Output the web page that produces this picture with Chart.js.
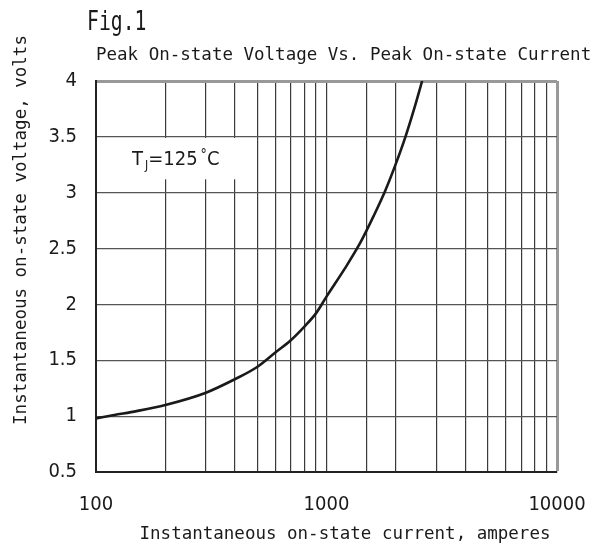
<!DOCTYPE html>
<html>
<head>
<meta charset="utf-8">
<title>Fig.1 Peak On-state Voltage Vs. Peak On-state Current</title>
<script src="https://cdn.jsdelivr.net/npm/chart.js@4.4.1/dist/chart.umd.min.js"></script>
<style>
  html, body { margin: 0; padding: 0; background: #fff; }
  #wrap { width: 590px; height: 550px; }
</style>
</head>
<body>
<div id="wrap"><canvas id="vtm" width="590" height="550"></canvas></div>
<script>
// ─── Data ─────────────────────────────────────────────────────────────────────
const CURRENT = [100, 120, 150, 200, 300, 400, 500, 600, 700, 800, 900, 1000, 1200, 1400, 1600, 1800, 2000, 2200, 2400, 2600];
const VOLTAGE = [0.98, 1.01, 1.045, 1.1, 1.21, 1.33, 1.44, 1.57, 1.68, 1.8, 1.92, 2.07, 2.32, 2.55, 2.79, 3.02, 3.26, 3.5, 3.75, 4.0];
const X_LABELED = [100, 1000, 10000];
const Y_TICKS = [0.5, 1, 1.5, 2, 2.5, 3, 3.5, 4];

const FIG_TITLE = 'Fig.1';
const SUBTITLE = 'Peak On-state Voltage Vs. Peak On-state Current';
const X_TITLE = 'Instantaneous on-state current, amperes';
const Y_TITLE = 'Instantaneous on-state voltage, volts';

const MONO = "'DejaVu Sans Mono', 'Liberation Mono', monospace";
const NARROW = "'Liberation Sans Narrow', 'DejaVu Sans Condensed', 'Liberation Sans', sans-serif";

// ─── Texts + temperature label ───────────────────────────────────────────────
const figText = {
  id: 'figText',
  beforeDatasetsDraw(chart) {
    // white box for the T_J label, it cuts the grid lines behind it
    const { ctx, scales: { x, y } } = chart;
    const l = x.getPixelForValue(100) + 1;
    const r = x.getPixelForValue(445);
    const t = y.getPixelForValue(3.49);
    const b = y.getPixelForValue(3.12);
    ctx.save();
    ctx.fillStyle = '#fff';
    ctx.fillRect(l, t, r - l, b - t);
    ctx.restore();
  },
  afterDraw(chart) {
    const { ctx, scales: { x, y } } = chart;
    ctx.save();
    ctx.fillStyle = '#1a1a1a';
    ctx.textBaseline = 'alphabetic';

    // Fig.1 (condensed)
    ctx.save();
    ctx.translate(87, 30);
    ctx.scale(0.76, 1);
    ctx.font = '26px ' + MONO;
    ctx.textAlign = 'left';
    ctx.fillText(FIG_TITLE, 0, 0);
    ctx.restore();

    ctx.font = '17.5px ' + MONO;
    ctx.textAlign = 'left';
    ctx.fillText(SUBTITLE, 96, 60);

    ctx.textAlign = 'center';
    ctx.fillText(X_TITLE, 345, 539);

    ctx.save();
    ctx.translate(26, 230);
    ctx.rotate(-Math.PI / 2);
    ctx.fillText(Y_TITLE, 0, 0);
    ctx.restore();

    // T_J=125°C
    const tx = x.getPixelForValue(100) + 36;
    const ty = y.getPixelForValue(3.32) + 8;
    ctx.textAlign = 'left';
    ctx.font = '20px ' + NARROW;
    ctx.fillText('T', tx, ty);
    let w = ctx.measureText('T').width;
    ctx.font = '12px ' + NARROW;
    ctx.fillText('J', tx + w + 2, ty + 4);
    w += 2 + ctx.measureText('J').width;
    ctx.font = '20px ' + NARROW;
    ctx.fillText('=125', tx + w, ty);
    w += ctx.measureText('=125').width + 3;
    ctx.font = '14px ' + NARROW;
    ctx.fillText('°', tx + w, ty - 6);
    w += ctx.measureText('°').width;
    ctx.font = '20px ' + NARROW;
    ctx.fillText('C', tx + w, ty);
    ctx.restore();
  }
};

const ctx = document.getElementById('vtm').getContext('2d');

new Chart(ctx, {
  type: 'line',
  data: {
    datasets: [{
      label: 'VTM',
      data: CURRENT.map((c, i) => ({ x: c, y: VOLTAGE[i] })),
      borderColor: '#1a1a1a',
      borderWidth: 2.6,
      pointRadius: 0,
      fill: false,
      cubicInterpolationMode: 'monotone'
    }]
  },
  options: {
    responsive: false,
    animation: false,
    layout: { padding: { top: 81, right: 33, left: 0, bottom: 0 } },
    plugins: {
      legend: { display: false },
      tooltip: { enabled: false }
    },
    scales: {
      x: {
        type: 'logarithmic',
        min: 100,
        max: 10000,
        afterFit: (s) => { s.height = 78; s.paddingLeft = 0; s.paddingRight = 0; },
        border: { display: true, color: '#222', width: 2 },
        grid: {
          drawTicks: false,
          color: (c) => (c.tick && c.tick.value === 10000 ? '#999' : '#3a3a3a'),
          lineWidth: (c) => (c.tick && c.tick.value === 10000 ? 3 : 1.2)
        },
        ticks: {
          autoSkip: false,
          maxRotation: 0,
          padding: 21,
          color: '#1a1a1a',
          font: { family: NARROW, size: 20 },
          callback: (v) => (X_LABELED.includes(v) ? String(v) : '')
        }
      },
      y: {
        type: 'linear',
        min: 0.5,
        max: 4,
        afterFit: (s) => { s.width = 96; s.paddingTop = 0; s.paddingBottom = 0; },
        afterBuildTicks: (s) => { s.ticks = Y_TICKS.map((v) => ({ value: v })); },
        border: { display: true, color: '#222', width: 2 },
        grid: {
          drawTicks: false,
          color: (c) => (c.tick && c.tick.value === 4 ? '#999' : '#555'),
          lineWidth: (c) => (c.tick && c.tick.value === 4 ? 3 : 1.2)
        },
        ticks: {
          padding: 19,
          color: '#1a1a1a',
          font: { family: NARROW, size: 20 },
          callback: (v) => String(v)
        }
      }
    }
  },
  plugins: [figText]
});
</script>
</body>
</html>
